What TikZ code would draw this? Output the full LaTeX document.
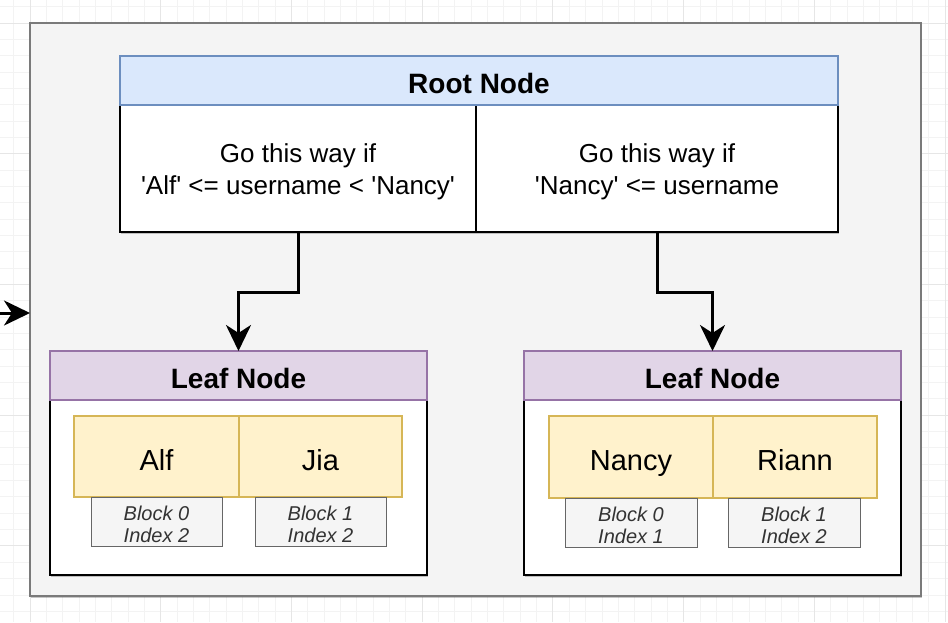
\documentclass[tikz,border=0pt]{standalone}
\usepackage{fontspec}
\setmainfont{Liberation Sans}[Ligatures=TeXOff]
\usetikzlibrary{arrows.meta,shadows}
\definecolor{gridminor}{HTML}{F3F3F3}
\definecolor{gridmajor}{HTML}{E6E6E6}
\definecolor{framefill}{HTML}{F4F4F4}
\definecolor{frameline}{HTML}{7A7A7A}
\definecolor{bluefill}{HTML}{DAE8FC}
\definecolor{blueline}{HTML}{6C8EBF}
\definecolor{purplefill}{HTML}{E1D5E7}
\definecolor{purpleline}{HTML}{9673A6}
\definecolor{yellowfill}{HTML}{FFF2CC}
\definecolor{yellowline}{HTML}{D6B656}
\definecolor{grayfill}{HTML}{F5F5F5}
\definecolor{grayline}{HTML}{666666}
\definecolor{graytext}{HTML}{333333}
\tikzset{
  boxbase/.style={inner sep=0pt, outer sep=0pt, anchor=north west},
  softshadow/.style={drop shadow={shadow xshift=0.5pt, shadow yshift=-2pt, opacity=0.22, fill=black}},
  framebox/.style={boxbase, draw=frameline, fill=framefill, line width=1.6pt, softshadow},
  roothead/.style={boxbase, draw=blueline, fill=bluefill, line width=1.2pt,
    font=\bfseries\fontsize{28}{32}\selectfont, text height=25pt, text depth=0pt},
  leafhead/.style={boxbase, draw=purpleline, fill=purplefill, line width=1.2pt,
    font=\bfseries\fontsize{28}{32}\selectfont, text height=25pt, text depth=0pt},
  bodybox/.style={boxbase, draw=black, fill=white, line width=1.3pt, softshadow},
  condlabel/.style={align=center, yshift=-3pt, font=\fontsize{26}{32}\selectfont},
  cellbox/.style={boxbase, draw=yellowline, fill=yellowfill, line width=1.2pt,
    font=\fontsize{29}{32}\selectfont, text height=27.5pt, text depth=0pt},
  blockbox/.style={boxbase, draw=grayline, fill=grayfill, line width=1pt},
  blocklabel/.style={align=center, yshift=-3pt, text=graytext,
    font=\itshape\fontsize{20}{22}\selectfont},
  flowarrow/.style={draw=black, line width=3pt, line join=miter,
    -{Stealth[length=26pt,width=25pt,inset=8pt]}},
}
\begin{document}
\begin{tikzpicture}[x=1pt,y=-1pt]
\useasboundingbox (0,0) rectangle (948,622);
\fill[white] (0,0) rectangle (948,622);
% background grid
\foreach \gx in {-2.68,13.66,...,950} \draw[gridminor, line width=0.8pt] (\gx,0) -- (\gx,622);
\foreach \gy in {6.66,23,...,625} \draw[gridminor, line width=0.8pt] (0,\gy) -- (948,\gy);
\foreach \gx in {30,160.72,...,950} \draw[gridmajor, line width=0.9pt] (\gx,0) -- (\gx,622);
\foreach \gy in {23,153.72,...,625} \draw[gridmajor, line width=0.9pt] (0,\gy) -- (948,\gy);

% outer frame
\node[framebox, minimum width=891pt, minimum height=573pt] (frame) at (30,23) {};

% root node
\node[bodybox, minimum width=356pt, minimum height=127pt,
  label={[condlabel]center:Go this way if\\'Alf' <= username < 'Nancy'}] (rootL) at (120,105) {};
\node[bodybox, minimum width=362pt, minimum height=127pt,
  label={[condlabel]center:Go this way if\\'Nancy' <= username}] (rootR) at (476,105) {};
\node[roothead, minimum width=718pt, minimum height=49pt] (rootH) at (120,56) {Root Node};

% left leaf
\node[bodybox, minimum width=377pt, minimum height=175pt] (leafLB) at (50,400) {};
\node[leafhead, minimum width=377pt, minimum height=49pt] (leafLH) at (50,351) {Leaf Node};
\node[cellbox, minimum width=165pt, minimum height=81pt] (alf) at (74,416) {Alf};
\node[cellbox, minimum width=163pt, minimum height=81pt] (jia) at (239,416) {Jia};
\node[blockbox, minimum width=131pt, minimum height=49pt,
  label={[blocklabel]center:Block 0\\Index 2}] (blkA) at (91,497) {};
\node[blockbox, minimum width=131pt, minimum height=49pt,
  label={[blocklabel]center:Block 1\\Index 2}] (blkB) at (255,497) {};

% right leaf
\node[bodybox, minimum width=377pt, minimum height=175pt] (leafRB) at (524,400) {};
\node[leafhead, minimum width=377pt, minimum height=49pt] (leafRH) at (524,351) {Leaf Node};
\node[cellbox, minimum width=164pt, minimum height=82pt] (nancy) at (549,416) {Nancy};
\node[cellbox, minimum width=164pt, minimum height=82pt] (riann) at (713,416) {Riann};
\node[blockbox, minimum width=132pt, minimum height=49pt,
  label={[blocklabel]center:Block 0\\Index 1}] (blkC) at (565,498) {};
\node[blockbox, minimum width=132pt, minimum height=49pt,
  label={[blocklabel]center:Block 1\\Index 2}] (blkD) at (728,498) {};

% connectors
\coordinate (midrow) at (0,292);
\draw[flowarrow] (rootL.south) -- (rootL.south |- midrow) -| (leafLH.north);
\draw[flowarrow] (rootR.south) -- (rootR.south |- midrow) -| (leafRH.north);
\coordinate (inL) at (0,313);
\draw[flowarrow] (inL) -- (frame.west |- inL);
\end{tikzpicture}
\end{document}
